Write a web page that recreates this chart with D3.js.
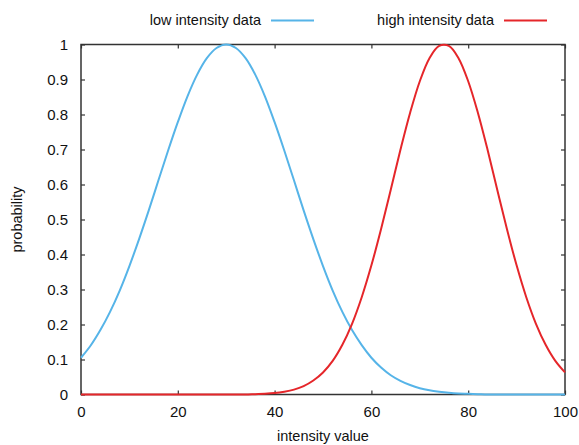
<!DOCTYPE html>
<html>
<head>
<meta charset="utf-8">
<script src="https://cdn.jsdelivr.net/npm/d3@7"></script>
<style>
  body { margin: 0; background: #fff; }
  svg text { font-family: "Liberation Sans", Arial, sans-serif; fill: #111; }
</style>
</head>
<body>
<div id="chart"></div>
<script>
// intensity values (x) sampled every 2 units
const intensity = [0, 2, 4, 6, 8, 10, 12, 14, 16, 18, 20, 22, 24, 26, 28, 30, 32, 34, 36, 38,
  40, 42, 44, 46, 48, 50, 52, 54, 56, 58, 60, 62, 64, 66, 68, 70, 72, 74, 76, 78,
  80, 82, 84, 86, 88, 90, 92, 94, 96, 98, 100];

// probabilities
const lowIntensity = [0.105, 0.140, 0.184, 0.236, 0.297, 0.367, 0.444, 0.526, 0.612, 0.697,
  0.778, 0.852, 0.914, 0.961, 0.990, 1.000, 0.990, 0.961, 0.914, 0.852,
  0.778, 0.697, 0.612, 0.526, 0.444, 0.367, 0.297, 0.236, 0.184, 0.141,
  0.105, 0.077, 0.055, 0.039, 0.027, 0.018, 0.012, 0.008, 0.005, 0.003,
  0.002, 0.001, 0, 0, 0, 0, 0, 0, 0, 0, 0];

const highIntensity = [0, 0, 0, 0, 0, 0, 0, 0, 0, 0,
  0, 0, 0, 0, 0, 0, 0, 0, 0.001, 0.002,
  0.004, 0.008, 0.014, 0.024, 0.040, 0.063, 0.096, 0.142, 0.202, 0.278,
  0.369, 0.473, 0.585, 0.699, 0.805, 0.895, 0.961, 0.996, 0.996, 0.961,
  0.895, 0.805, 0.699, 0.585, 0.473, 0.369, 0.278, 0.202, 0.142, 0.096, 0.063];

const xTicks = [0, 20, 40, 60, 80, 100];
const yTicks = [0, 0.1, 0.2, 0.3, 0.4, 0.5, 0.6, 0.7, 0.8, 0.9, 1];

const seriesNames = ['low intensity data', 'high intensity data'];
const seriesColors = ['#56b4e8', '#e5262a'];

const width = 579;
const height = 445;
const margin = { top: 44.5, right: 14, bottom: 50.5, left: 81 };

const svg = d3.select('#chart').append('svg')
  .attr('width', width)
  .attr('height', height);

const x = d3.scaleLinear().domain([0, 100]).range([margin.left, width - margin.right]);
const y = d3.scaleLinear().domain([0, 1]).range([height - margin.bottom, margin.top]);

const tickLen = 4;

// Axes: ticks point inwards, labels outside
const xAxis = svg.append('g')
  .attr('transform', `translate(0,${y(0)})`)
  .call(d3.axisBottom(x).tickValues(xTicks).tickSize(-tickLen).tickPadding(12).tickFormat(d3.format('d')));

const xAxisTop = svg.append('g')
  .attr('transform', `translate(0,${y(1)})`)
  .call(d3.axisTop(x).tickValues(xTicks).tickSize(-tickLen).tickFormat(''));

const yAxis = svg.append('g')
  .attr('transform', `translate(${x(0)},0)`)
  .call(d3.axisLeft(y).tickValues(yTicks).tickSize(-tickLen).tickPadding(13).tickFormat(d3.format('~g')));

const yAxisRight = svg.append('g')
  .attr('transform', `translate(${x(100)},0)`)
  .call(d3.axisRight(y).tickValues(yTicks).tickSize(-tickLen).tickFormat(''));

[xAxis, xAxisTop, yAxis, yAxisRight].forEach(g => {
  g.select('.domain').remove();
  g.selectAll('.tick line').attr('stroke', '#333').attr('stroke-width', 1.2);
  g.selectAll('.tick text')
    .attr('font-size', '15px')
    .attr('font-family', '"Liberation Sans", Arial, sans-serif')
    .attr('fill', '#111');
});

// Frame
svg.append('rect')
  .attr('x', x(0))
  .attr('y', y(1))
  .attr('width', x(100) - x(0))
  .attr('height', y(0) - y(1))
  .attr('fill', 'none')
  .attr('stroke', '#333')
  .attr('stroke-width', 1.5);

// Curves
const line = d3.line()
  .x(d => x(d[0]))
  .y(d => y(d[1]))
  .curve(d3.curveCatmullRom.alpha(0.5));

[lowIntensity, highIntensity].forEach((vals, i) => {
  svg.append('path')
    .datum(intensity.map((v, j) => [v, vals[j]]))
    .attr('d', line)
    .attr('fill', 'none')
    .attr('stroke', seriesColors[i])
    .attr('stroke-width', 2);
});

// Legend
const legendTextEnd = [261, 494];
legendTextEnd.forEach((tx, i) => {
  svg.append('text')
    .attr('x', tx)
    .attr('y', 21)
    .attr('text-anchor', 'end')
    .attr('dominant-baseline', 'middle')
    .attr('font-size', '14.5px')
    .text(seriesNames[i]);

  svg.append('line')
    .attr('x1', tx + 10)
    .attr('x2', tx + 53)
    .attr('y1', 20.5)
    .attr('y2', 20.5)
    .attr('stroke', seriesColors[i])
    .attr('stroke-width', 2);
});

// Axis titles
svg.append('text')
  .attr('x', 323)
  .attr('y', 441)
  .attr('text-anchor', 'middle')
  .attr('font-size', '14.5px')
  .text('intensity value');

svg.append('text')
  .attr('transform', `translate(22,${(y(0) + y(1)) / 2}) rotate(-90)`)
  .attr('text-anchor', 'middle')
  .attr('font-size', '14.5px')
  .text('probability');
</script>
</body>
</html>
